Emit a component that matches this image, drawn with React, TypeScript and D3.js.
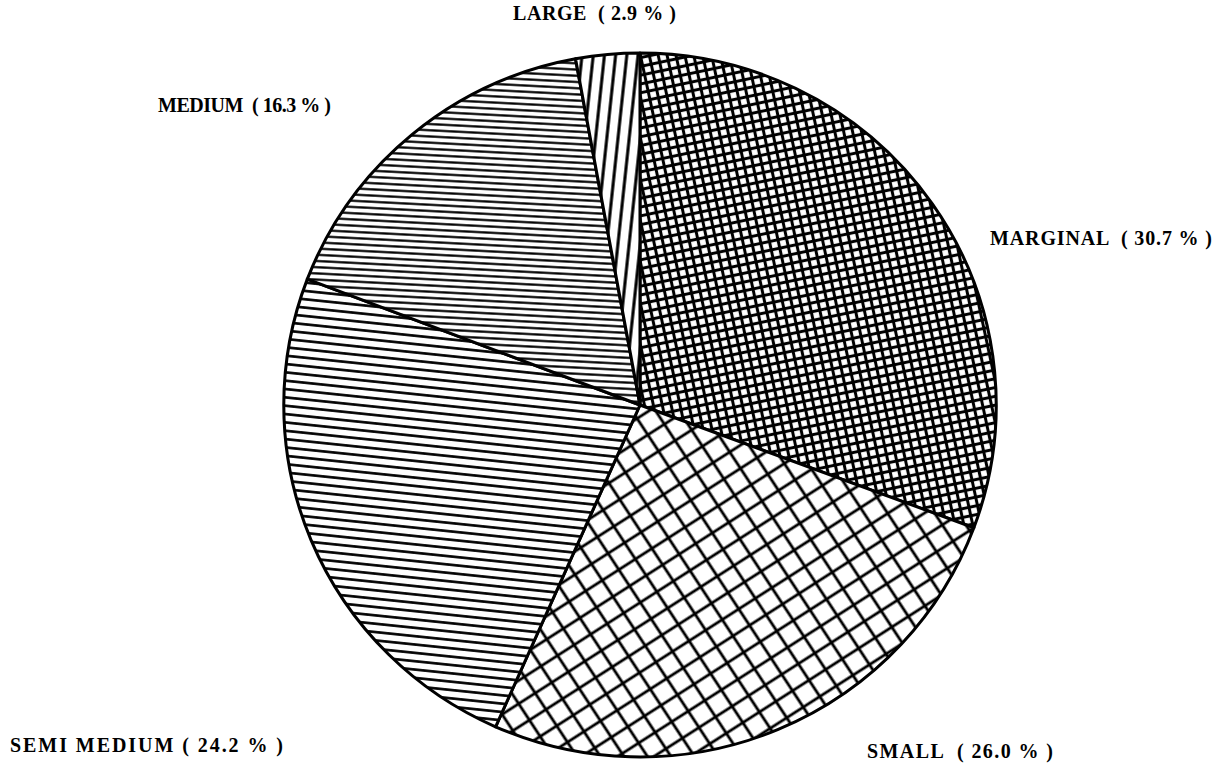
import React, { useEffect, useRef } from "react";
import * as d3 from "d3";

// farm size classes, clockwise from 12 o'clock
const categories = ["MARGINAL", "SMALL", "SEMI MEDIUM", "MEDIUM", "LARGE"];
const shares = [30.7, 26.0, 24.2, 16.3, 2.9];
const labelTexts = [
  "MARGINAL  ( 30.7 % )",
  "SMALL  ( 26.0 % )",
  "SEMI MEDIUM ( 24.2 % )",
  "MEDIUM  ( 16.3 % )",
  "LARGE  ( 2.9 % )",
];

// label placement (layout only): x, baseline y, text width
const labelPos: [number, number, number][] = [
  [990, 245, 222],
  [867, 758, 186],
  [10, 752, 273],
  [158, 112, 173],
  [513, 20, 163],
];

// hatch patterns per slice
const hatch = [
  { id: "pMarginal", size: 8.6, angle: -12, width: 3, grid: true },
  { id: "pSmall", size: 19.5, angle: -33, width: 2.8, grid: true },
  { id: "pSemi", size: 8.3, angle: 6, width: 2.6, grid: false },
  { id: "pMedium", size: 6.2, angle: 3, width: 2.2, grid: false },
  { id: "pLarge", size: 11, angle: 96, width: 3, grid: false },
];

export default function App() {
  const ref = useRef<SVGSVGElement>(null);

  useEffect(() => {
    drawChart();
    //eslint-disable-next-line
  }, []);

  function drawChart() {
    const svg = d3.select(ref.current);
    svg.selectAll("*").remove();

    const defs = svg.append("defs");
    hatch.forEach((h) => {
      const p = defs
        .append("pattern")
        .attr("id", h.id)
        .attr("patternUnits", "userSpaceOnUse")
        .attr("width", h.size)
        .attr("height", h.size)
        .attr("patternTransform", `rotate(${h.angle})`);
      p.append("rect").attr("width", h.size).attr("height", h.size).attr("fill", "#fff");
      p.append("line")
        .attr("x1", 0)
        .attr("x2", h.size)
        .attr("y1", h.size / 2)
        .attr("y2", h.size / 2)
        .attr("stroke", "#000")
        .attr("stroke-width", h.width);
      if (h.grid) {
        p.append("line")
          .attr("y1", 0)
          .attr("y2", h.size)
          .attr("x1", h.size / 2)
          .attr("x2", h.size / 2)
          .attr("stroke", "#000")
          .attr("stroke-width", h.width);
      }
    });

    const cx = 640;
    const cy = 405;
    const r = 352;

    const pie = d3
      .pie<number>()
      .sort(null)
      .value((d) => d)
      .startAngle(0)
      .endAngle(2 * Math.PI);
    const arc = d3.arc<d3.PieArcDatum<number>>().innerRadius(0).outerRadius(r);

    const g = svg
      .append("g")
      .attr("transform", `translate(${cx},${cy}) scale(1.012,1)`);

    g.selectAll("path")
      .data(pie(shares))
      .enter()
      .append("path")
      .attr("d", arc)
      .attr("fill", (d, i) => `url(#${hatch[i].id})`)
      .attr("stroke", "#000")
      .attr("stroke-width", 3)
      .attr("stroke-linejoin", "round");

    svg
      .append("g")
      .selectAll("text")
      .data(categories)
      .enter()
      .append("text")
      .attr("x", (d, i) => labelPos[i][0])
      .attr("y", (d, i) => labelPos[i][1])
      .attr("textLength", (d, i) => labelPos[i][2])
      .attr("lengthAdjust", "spacing")
      .attr("font-family", "'Liberation Serif', 'Times New Roman', serif")
      .attr("font-weight", "bold")
      .attr("font-size", 20)
      .attr("fill", "#000")
      .style("white-space", "pre")
      .text((d, i) => labelTexts[i]);
  }

  return (
    <svg
      ref={ref}
      width={1230}
      height={769}
      style={{ position: "absolute", left: 0, top: 0, background: "#fff" }}
    />
  );
}
